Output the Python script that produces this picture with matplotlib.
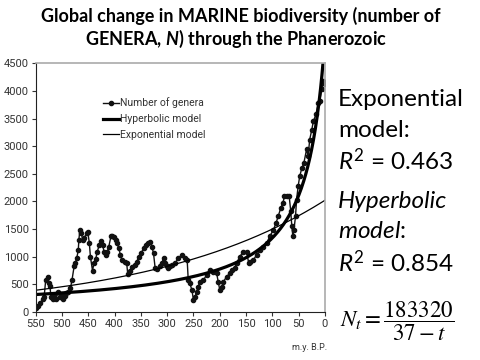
import numpy as np
import matplotlib
matplotlib.use("Agg")
import matplotlib.pyplot as plt

# number of marine genera (age in m.y. B.P.)
age = [550, 545, 541, 537, 534, 531, 527, 525, 523, 521, 518, 515, 512, 507, 504,
       501, 498, 494, 492, 489, 484, 481, 477, 475, 472, 469, 468, 466, 463, 461,
       458, 453, 451, 448, 446, 442, 439, 436, 433, 429, 426, 423, 420, 417, 414,
       411, 407, 404, 401, 398, 395, 392, 389, 386, 381, 377, 375, 371, 367, 362,
       358, 354, 349, 345, 341, 336, 332, 329, 326, 323, 319, 314, 310, 307, 304,
       300, 298, 294, 291, 285, 279, 272, 266, 262, 260, 257, 253, 250, 247, 244,
       241, 238, 231, 225, 219, 212, 206, 203, 200, 196, 193, 187, 181, 177, 172,
       168, 162, 155, 149, 145, 143, 136, 130, 124, 117, 111, 105, 98, 93, 89,
       84, 80, 77, 73, 68, 65, 63, 61, 59, 56, 54, 51, 48, 44, 40,
       35, 32, 29, 25, 22, 17, 13, 10, 6, 3, 0]
genera = [60, 100, 150, 240, 270, 575, 625, 515, 470, 270, 225, 300, 225, 360, 270,
          300, 240, 285, 345, 360, 425, 575, 820, 880, 970, 1120, 1300, 1485, 1425, 1300,
          1330, 1435, 1450, 1240, 1000, 745, 890, 950, 1090, 1210, 1290, 1210, 1090, 1030, 1090,
          1180, 1365, 1375, 1350, 1300, 1240, 1150, 1030, 940, 910, 880, 680, 740, 805, 850,
          910, 990, 1070, 1150, 1210, 1250, 1270, 1180, 1060, 800, 770, 830, 880, 970, 880,
          820, 790, 820, 850, 880, 970, 1030, 970, 940, 580, 516, 395, 213, 273, 364,
          455, 545, 576, 667, 758, 727, 697, 545, 395, 455, 545, 636, 697, 758, 800,
          880, 1000, 1090, 1090, 880, 900, 940, 1030, 1120, 1180, 1243, 1364, 1485, 1607, 1727,
          1880, 1970, 2090, 2103, 2090, 1818, 1545, 1364, 1485, 1727, 2030, 2273, 2455, 2600, 2700,
          2940, 2820, 3120, 3300, 3455, 3575, 3790, 3820, 4030, 4180, 4120]

# model parameters
hyp_num = 183320
hyp_t0 = 37
exp_start = 390    # exponential model value at 550 m.y.
exp_end = 2020     # exponential model value at 0 m.y.

xticks = [550, 500, 450, 400, 350, 300, 250, 200, 150, 100, 50, 0]
yticks = [0, 500, 1000, 1500, 2000, 2500, 3000, 3500, 4000, 4500]

plt.rcParams['font.family'] = ['Lato', 'DejaVu Sans']
plt.rcParams['mathtext.fontset'] = 'custom'
plt.rcParams['mathtext.rm'] = 'Lato'
plt.rcParams['mathtext.it'] = 'Lato:italic'
plt.rcParams['mathtext.bf'] = 'Lato:italic:bold'

fig = plt.figure(figsize=(4.8, 3.6), dpi=100)
ax = fig.add_axes([0.0744, 0.134, 0.6026, 0.690])

t = np.linspace(550, 0, 600)
hyp = hyp_num / (hyp_t0 + t)
k = np.log(exp_end / exp_start) / 550
expo = exp_end * np.exp(-k * t)

ax.plot(age, genera, color='#111111', lw=1, marker='o', ms=3, label='Number of genera')
ax.plot(t, hyp, color='black', lw=2.3, label='Hyperbolic model')
ax.plot(t, expo, color='black', lw=0.9, label='Exponential model')

ax.set_xlim(550, 0)
ax.set_ylim(0, 4500)
ax.set_xticks(xticks)
ax.set_yticks(yticks)
tickfont = ['Roboto', 'DejaVu Sans']
for lab in ax.get_xticklabels() + ax.get_yticklabels():
    lab.set_family(tickfont)
    lab.set_fontsize(8)
    lab.set_stretch('condensed')
    lab.set_color('#333333')
ax.tick_params(length=3, width=0.8, pad=2, color='#333333')
for s in ['top', 'right']:
    ax.spines[s].set_color('#aaaaaa')
    ax.spines[s].set_linewidth(1.2)
for s in ['left', 'bottom']:
    ax.spines[s].set_color('#222222')

leg = ax.legend(loc='upper left', bbox_to_anchor=(0.2, 0.9), frameon=False,
                handlelength=1.5, handletextpad=0.1, labelspacing=0.55,
                prop={'family': tickfont, 'size': 7.5})
for txt in leg.get_texts():
    txt.set_color('#333333')

fig.text(0.681, 0.036, 'm.y. B.P.', family=tickfont, fontsize=6.5,
         color='#333333', ha='right', va='center')

# title
fig.text(0.502, 0.955, 'Global change in MARINE biodiversity (number of',
         fontsize=13, fontweight='bold', ha='center', va='center')
fig.text(0.492, 0.892, r'GENERA, $\mathbf{N}$) through the Phanerozoic',
         fontsize=13, fontweight='bold', ha='center', va='center')

# right-hand annotations
rx = 0.704
fs = 17.5
fig.text(rx, 0.706, 'Exponential', fontsize=fs, va='baseline')
fig.text(rx, 0.619, 'model:', fontsize=fs, va='baseline')
fig.text(rx, 0.528, r'$R^2$ = 0.463', fontsize=fs, va='baseline')
fig.text(rx, 0.422, 'Hyperbolic', fontsize=fs, style='italic', va='baseline')
fig.text(rx, 0.339, r'$model$:', fontsize=fs, va='baseline')
fig.text(rx, 0.244, r'$R^2$ = 0.854', fontsize=fs, va='baseline')
fig.text(0.828, 0.108, r'$N_t = \dfrac{183320}{37-t}$', fontsize=16.5,
         math_fontfamily='stix', ha='center', va='center')

fig.savefig('out.png', dpi=100)
